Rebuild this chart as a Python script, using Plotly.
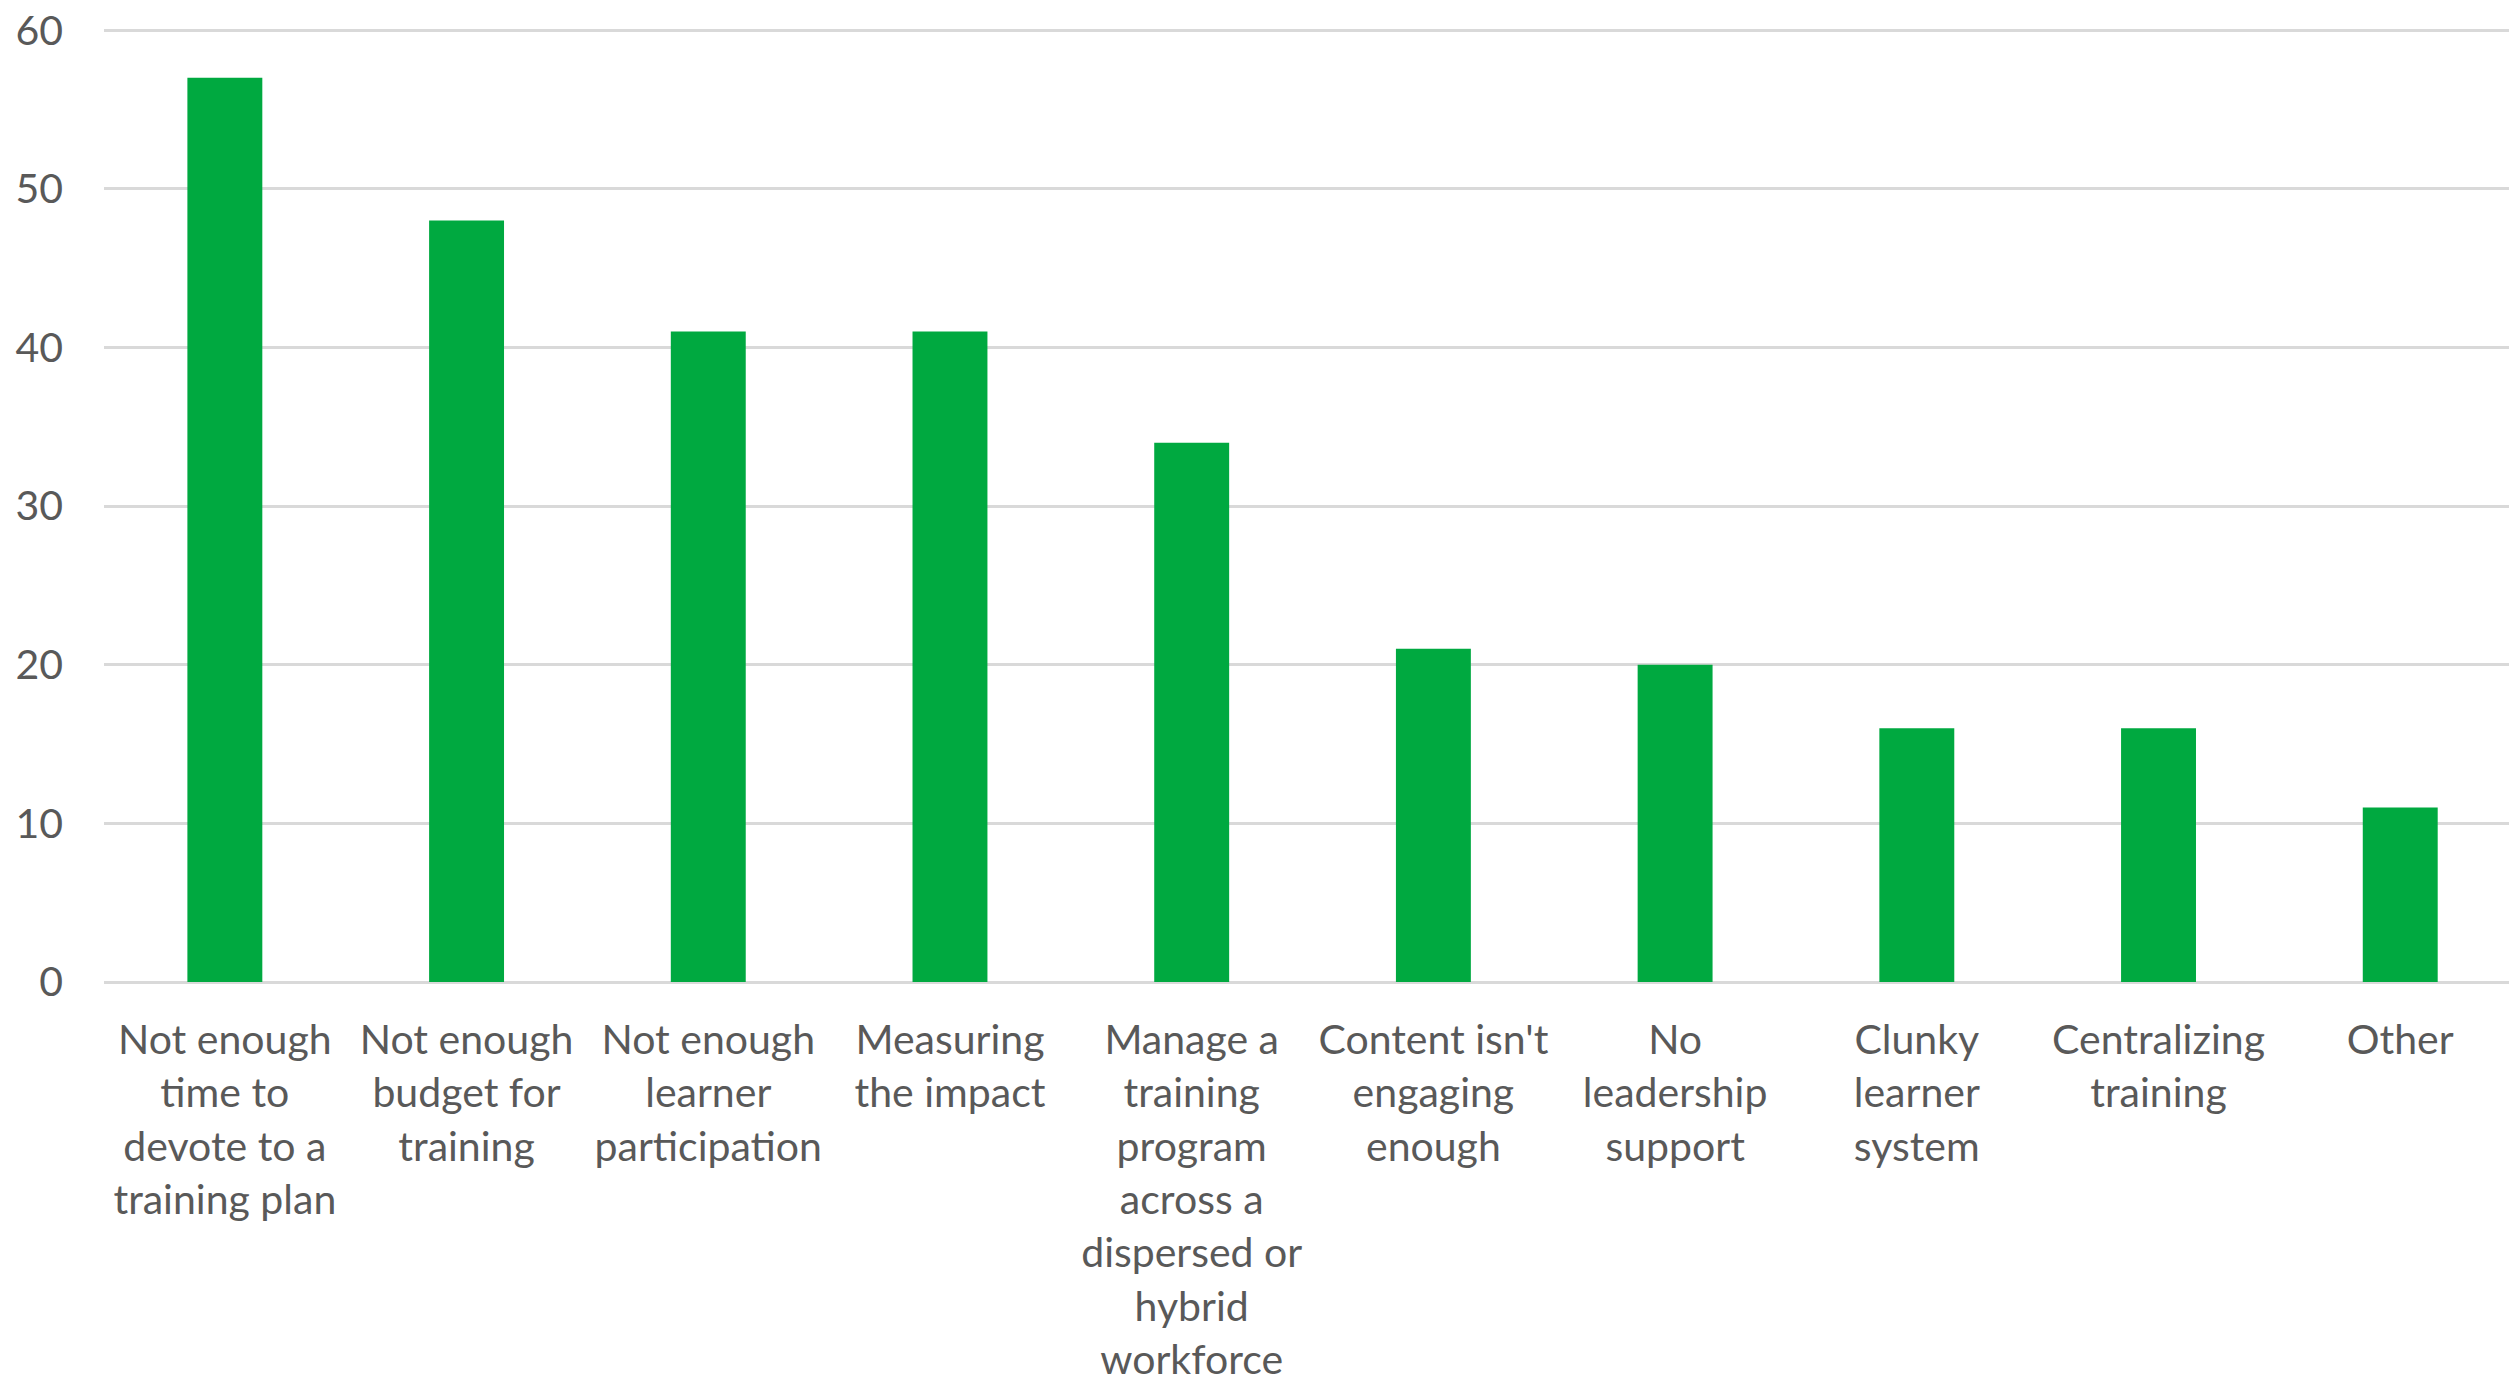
import plotly.graph_objects as go

categories = [
    "Not enough<br>time to<br>devote to a<br>training plan",
    "Not enough<br>budget for<br>training",
    "Not enough<br>learner<br>participation",
    "Measuring<br>the impact",
    "Manage a<br>training<br>program<br>across a<br>dispersed or<br>hybrid<br>workforce",
    "Content isn't<br>engaging<br>enough",
    "No<br>leadership<br>support",
    "Clunky<br>learner<br>system",
    "Centralizing<br>training",
    "Other",
]
values = [57, 48, 41, 41, 34, 21, 20, 16, 16, 11]
y_ticks = [0, 10, 20, 30, 40, 50, 60]

fig = go.Figure(
    go.Bar(
        x=categories,
        y=values,
        marker=dict(color="#00A940", line=dict(width=0)),
    )
)

fig.update_layout(
    width=2509,
    height=1386,
    margin=dict(l=104, r=0, t=27, b=404),
    paper_bgcolor="white",
    plot_bgcolor="white",
    bargap=0.69,
    showlegend=False,
    font=dict(family="Lato, 'Open Sans', sans-serif", color="#595959", size=41),
)
fig.update_xaxes(
    range=[-0.5, 9.45],
    showgrid=False,
    showline=False,
    ticks="",
    tickangle=0,
    tickfont=dict(size=41, color="#595959"),
    ticklabelstandoff=30,
)
fig.update_yaxes(
    range=[0, 60.2],
    tickvals=y_ticks,
    showgrid=True,
    gridcolor="#D9D9D9",
    gridwidth=3,
    zeroline=True,
    zerolinecolor="#D9D9D9",
    zerolinewidth=3,
    showline=False,
    ticks="",
    tickfont=dict(size=41, color="#595959"),
    ticklabelstandoff=40,
)

fig.write_html("out.html")
